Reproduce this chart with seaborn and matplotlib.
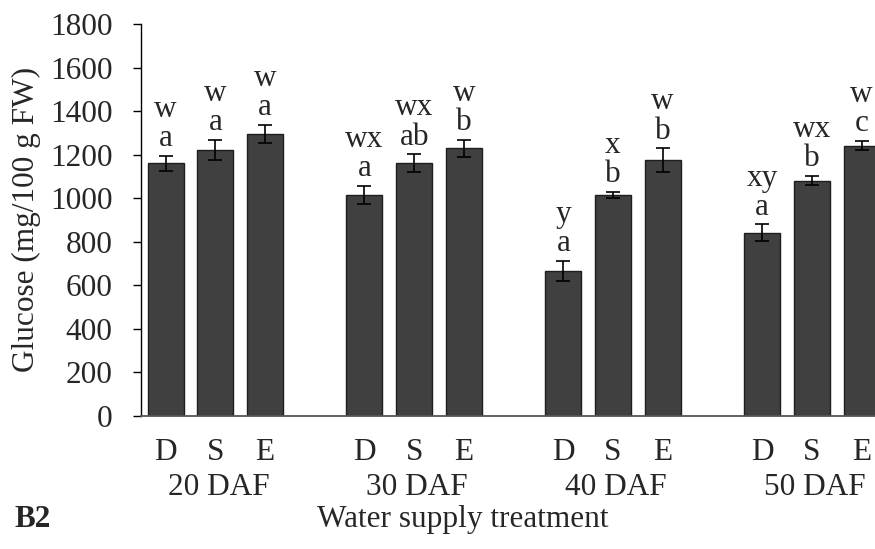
import numpy as np
import pandas as pd
import matplotlib
matplotlib.use("Agg")
import matplotlib.pyplot as plt
import seaborn as sns

groups = ["20 DAF", "30 DAF", "40 DAF", "50 DAF"]
treatments = ["D", "S", "E"]
glucose = [1160, 1221, 1295, 1014, 1160, 1229, 666, 1014, 1175, 841, 1080, 1241]
errors = [34, 46, 40, 43, 41, 40, 47, 15, 54, 38, 22, 22]
upper_letters = ["w", "w", "w", "wx", "wx", "w", "y", "x", "w", "xy", "wx", "w"]
lower_letters = ["a", "a", "a", "a", "ab", "b", "a", "b", "b", "a", "b", "c"]
yticks = [0, 200, 400, 600, 800, 1000, 1200, 1400, 1600, 1800]

FS = 22.5

sns.set_theme(style="white")
plt.rcParams["font.family"] = ["Liberation Serif", "DejaVu Serif"]

rows = []
for gi, g in enumerate(groups):
    for ti, t in enumerate(treatments):
        k = gi * 3 + ti
        rows.append({"group": g, "treatment": t, "pos": gi * 4 + ti,
                     "glucose": glucose[k], "err": errors[k],
                     "up": upper_letters[k], "low": lower_letters[k]})
df = pd.DataFrame(rows)

fig = plt.figure(figsize=(8.75, 5.49), dpi=100)
ax = fig.add_axes([0.1606, 0.2428, 1.0 - 0.1606, 0.9563 - 0.2428])

sns.barplot(data=df, x="pos", y="glucose", native_scale=True, width=0.725,
            color="#404040", saturation=1, edgecolor="#1e1e1e", linewidth=1.0,
            errorbar=None, ax=ax)
ax.errorbar(df["pos"], df["glucose"], yerr=df["err"], fmt="none",
            ecolor="black", elinewidth=1.2, capsize=5, capthick=1.2, zorder=5)

for _, r in df.iterrows():
    top = r["glucose"] + r["err"]
    ax.annotate(r["low"], (r["pos"], top), xytext=(0, 7), textcoords="offset points",
                ha="center", va="baseline", fontsize=FS)
    ax.annotate(r["up"], (r["pos"], top), xytext=(0, 28), textcoords="offset points",
                ha="center", va="baseline", fontsize=FS)

ax.set_xlim(-0.505, 14.27)
ax.set_ylim(0, 1800)
ax.set_yticks(yticks)
ax.set_yticklabels([str(v) for v in yticks], fontsize=FS)
ax.set_xticks(df["pos"])
ax.set_xticklabels(df["treatment"], fontsize=FS)
ax.tick_params(axis="x", length=0, pad=16)
ax.tick_params(axis="y", direction="out", length=6, width=1, color="black", pad=14, left=True)
ax.set_xlabel("")
ax.set_ylabel("")
for s in ["top", "right"]:
    ax.spines[s].set_visible(False)
ax.spines["left"].set_color("black")
ax.spines["left"].set_linewidth(1.0)
ax.spines["bottom"].set_color("#555555")
ax.spines["bottom"].set_linewidth(1.3)

trans = matplotlib.transforms.blended_transform_factory(ax.transData, fig.transFigure)
for gi, g in enumerate(groups):
    ax.text(gi * 4 + 1 + 0.06, (549 - 495) / 549, g, transform=trans,
            ha="center", va="baseline", fontsize=FS)

fig.text(0.529, (549 - 527) / 549, "Water supply treatment", ha="center",
         va="baseline", fontsize=FS)
fig.text(0.017, (549 - 527) / 549, "B2", ha="left", va="baseline",
         fontsize=FS, fontweight="bold")
fig.text(0.030, 0.60, "Glucose (mg/100 g FW)", rotation=90, ha="center",
         va="center", fontsize=FS)

fig.savefig("out.png", dpi=100)
